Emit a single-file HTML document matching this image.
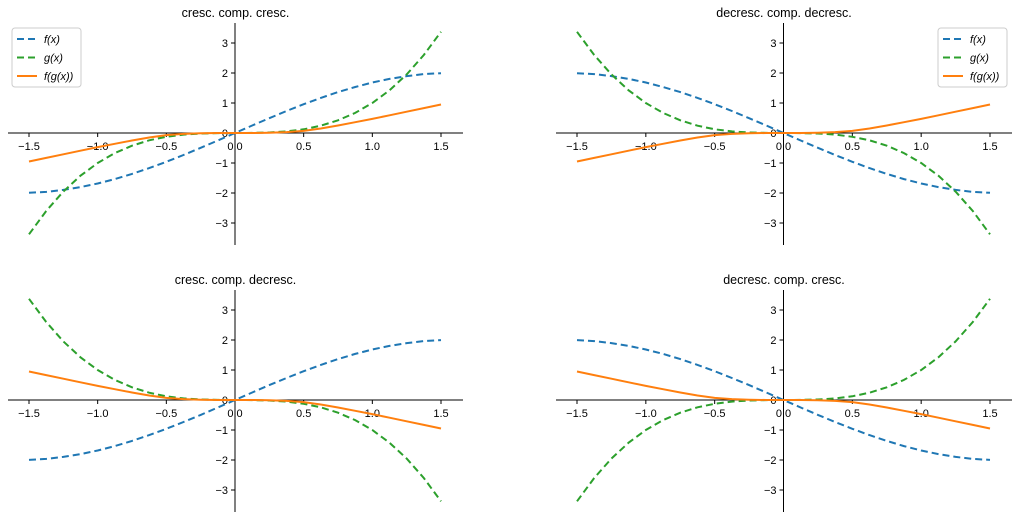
<!DOCTYPE html>
<html><head><meta charset="utf-8"><style>
body{margin:0;background:#fff;width:1018px;height:519px;overflow:hidden;font-family:"Liberation Sans",sans-serif}
svg text{font-family:"Liberation Sans",sans-serif}
</style></head><body>
<svg id="fig" width="1018" height="519"></svg>
<script>
const xs=[-1.5,-1.375,-1.25,-1.125,-1,-0.875,-0.75,-0.625,-0.5,-0.375,-0.25,-0.125,0,0.125,0.25,0.375,0.5,0.625,0.75,0.875,1,1.125,1.25,1.375,1.5];
const fVals=[-1.995,-1.962,-1.898,-1.804,-1.683,-1.535,-1.363,-1.170,-0.959,-0.733,-0.495,-0.249,0,0.249,0.495,0.733,0.959,1.170,1.363,1.535,1.683,1.804,1.898,1.962,1.995];
const gVals=[-3.375,-2.600,-1.953,-1.424,-1.0,-0.670,-0.422,-0.244,-0.125,-0.053,-0.016,-0.002,0,0.002,0.016,0.053,0.125,0.244,0.422,0.670,1.0,1.424,1.953,2.600,3.375];
const hVals=[-0.95,-0.83,-0.71,-0.59,-0.47,-0.36,-0.25,-0.15,-0.07,-0.03,-0.01,0,0,0,0.01,0.03,0.07,0.15,0.25,0.36,0.47,0.59,0.71,0.83,0.95];
const xTicks=[-1.5,-1.0,-0.5,0.0,0.5,1.0,1.5];
const yTicks=[-3,-2,-1,0,1,2,3];
const titles=["cresc. comp. cresc.","decresc. comp. decresc.","cresc. comp. decresc.","decresc. comp. cresc."];
const fSign=[1,-1,1,-1];
const gSign=[1,-1,-1,1];
const panels=[{x0:29,x1:441,y0:133,l:8,r:463,t:23,b:245,ty:13,leg:"left"},
{x0:577,x1:990,y0:133,l:556,r:1012,t:23,b:245,ty:13,leg:"right"},
{x0:29,x1:441,y0:400,l:8,r:463,t:290,b:512,ty:280},
{x0:577,x1:990,y0:400,l:556,r:1012,t:290,b:512,ty:280}];
const svg=document.getElementById('fig');const NS='http://www.w3.org/2000/svg';
function mk(tag,attrs,parent){const e=document.createElementNS(NS,tag);for(const k in attrs)e.setAttribute(k,attrs[k]);(parent||svg).appendChild(e);return e;}
const C={f:'#1f77b4',g:'#2ca02c',h:'#ff7f0e'};
panels.forEach((p,i)=>{
 const g=mk('g',{});
 
 
 const sx=v=>p.x0+(v+1.5)/3*(p.x1-p.x0);
 const sy=v=>p.y0-v*30;
 const xz=sx(0);
 const t=mk('text',{x:(p.l+p.r)/2,y:p.ty+4,'text-anchor':'middle','font-size':12.5,fill:'#000'},g);t.textContent=titles[i];
 
 
 const xa=mk('line',{x1:p.l,x2:p.r,y1:p.y0,y2:p.y0,stroke:'#000','stroke-width':1},g);
 
 
 const ya=mk('line',{x1:xz,x2:xz,y1:p.t,y2:p.b,stroke:'#000','stroke-width':1},g);
 
 
 xTicks.forEach(v=>{const X=sx(v);mk('line',{x1:X,x2:X,y1:p.y0,y2:p.y0+4,stroke:'#000'},g);
  const tx=mk('text',{x:X,y:p.y0+17,'text-anchor':'middle','font-size':11},g);tx.textContent=(v<0?'\u2212':'')+Math.abs(v).toFixed(1);
  
  });
 yTicks.forEach(v=>{const Y=sy(v);mk('line',{x1:xz-4,x2:xz,y1:Y,y2:Y,stroke:'#000'},g);
  const ty=mk('text',{x:xz-7,y:Y+4,'text-anchor':'end','font-size':11},g);ty.textContent=(v<0?'\u2212':'')+Math.abs(v);
  
  });
 const series=[['f',fVals.map(v=>v*fSign[i]),'7,4'],['g',gVals.map(v=>v*gSign[i]),'7,4'],['h',hVals.map(v=>v*fSign[i]*gSign[i]),null]];
 series.forEach(([k,vals,dash])=>{
  const d=xs.map((x,j)=>(j?'L':'M')+sx(x).toFixed(1)+','+sy(vals[j]).toFixed(1)).join('');
  const a={d,fill:'none',stroke:C[k],'stroke-width':2};if(dash)a['stroke-dasharray']=dash;
  const pa=mk('path',a,g);
  
  
 });
 if(p.leg){
  const lx=p.leg==='left'?12:938;
  const lg=mk('g',{},g);
  
  
  mk('rect',{x:lx,y:28,width:69,height:59,rx:3,fill:'#fff',stroke:'#ccc'},lg);
  [['f','f(x)','7,4'],['g','g(x)','7,4'],['h','f(g(x))',null]].forEach(([k,lab,dash],j)=>{
   const Y=39+j*18.5;const a={x1:lx+5,x2:lx+25,y1:Y,y2:Y,stroke:C[k],'stroke-width':2};if(dash)a['stroke-dasharray']=dash;
   mk('line',a,lg);
   const tt=mk('text',{x:lx+32,y:Y+4,'font-size':11,'font-style':'italic'},lg);tt.textContent=lab;
   
   
  });
 }
});
</script></body></html>
